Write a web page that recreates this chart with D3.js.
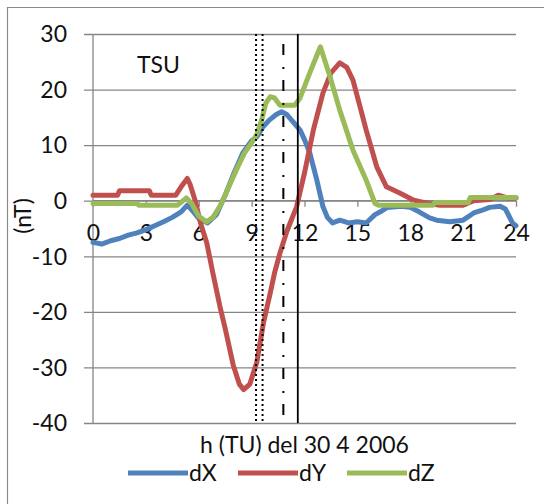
<!DOCTYPE html>
<html><head><meta charset="utf-8">
<script src="https://cdn.jsdelivr.net/npm/d3@7"></script>
<style>html,body{margin:0;padding:0;background:#fff;} svg{display:block;}</style>
</head><body>
<svg id="c" width="544" height="504"></svg>
<script>
// ---- data ----
const xTicks = [0, 3, 6, 9, 12, 15, 18, 21, 24];
const yTicks = [-40, -30, -20, -10, 0, 10, 20, 30];
const seriesNames = ["dX", "dY", "dZ"];
const seriesColors = ["#4F81BD", "#C0504D", "#9BBB59"];

const hoursX = [0,0.5,1,1.5,2,2.5,3,3.5,4,4.5,5,5.35,5.7,6.0,6.5,7.0,7.5,8.0,8.5,9.0,9.3,9.65,10.0,10.4,10.7,11.0,11.4,11.75,12.0,12.3,12.7,13.05,13.3,13.6,14.0,14.5,15.0,15.5,16.0,16.3,16.7,17.5,18.0,18.5,19.1,19.5,20.25,21,21.6,22.0,22.5,23.1,23.4,23.8,24];
const dX = [-7.5,-7.8,-7.2,-6.8,-6.2,-5.8,-5.2,-4.5,-3.8,-3,-2,-0.8,-2,-3.2,-4,-2.5,1,5,8.6,10.8,11.5,13.3,14.5,15.5,16,15.5,14,12.7,11,8.6,3.7,-1.1,-3,-4,-3.5,-4,-3.8,-4,-2.5,-2,-1.2,-1,-1.2,-2,-3.1,-3.5,-3.8,-3.5,-2.2,-1.8,-1.2,-1,-1.5,-4,-4.5];

const hoursY = [0,1.4,1.5,3.2,3.3,4.7,5.0,5.35,5.5,5.8,6.1,6.45,6.8,7.2,7.5,7.95,8.3,8.55,8.9,9.3,9.67,10.05,10.3,10.6,11.0,11.55,12.0,12.5,13.05,13.5,14.0,14.4,14.75,15.1,15.5,16.1,16.65,17.4,18.2,19.0,19.7,21.0,21.6,22.5,23.0,23.5,24];
const dY = [1,1,1.8,1.8,1,1,2.5,4,3,0,-4,-7.5,-13,-19,-23,-29.5,-33,-34,-33,-29,-22,-16.7,-13,-9.5,-5.5,-1.1,5,12.7,19.4,23,24.8,24,21.7,17.5,12.7,6.1,2.5,1.4,0.1,-0.5,-0.8,-0.8,0,0.2,1,0.5,0.5];

const hoursZ = [0,2.5,2.6,4.8,5.3,5.6,6.0,6.45,6.8,7.2,7.5,7.8,8.2,8.6,9.0,9.3,9.57,9.8,10.05,10.3,10.6,11.45,11.75,12.3,12.9,13.45,14.0,14.75,15.5,16.0,16.2,19.3,19.4,21.3,21.4,24];
const dZ = [-0.5,-0.5,-0.8,-0.8,0.5,-0.5,-2.8,-3.8,-3,-1,1,3.2,6,8.6,10.4,12,14.5,17.5,18.7,18.5,17.2,17.2,18.5,23,27.7,22.3,16.3,9.1,3.7,-0.5,-0.8,-0.8,-0.3,-0.3,0.6,0.6];

const dottedHours = [9.25, 9.62];
const dashDotHour = 10.8;
const solidHour = 11.62;

// ---- drawing ----
const svg = d3.select("#c");
const x = d3.scaleLinear().domain([0, 24]).range([93, 516]);
const y = d3.scaleLinear().domain([-40, 30]).range([423, 34]);
const font = "Lato, 'Open Sans', sans-serif";
const grid = "#868686";
const fmt = d => String(d);

// outer frame
svg.append("path").attr("d", "M7.5,504 V7.5 H544").attr("fill", "none").attr("stroke", "#8a8a8a").attr("stroke-width", 1.2);

// horizontal gridlines + y-axis ticks
const yAxis = d3.axisLeft(y).tickValues(yTicks).tickSize(-(516 - 84)).tickPadding(26).tickFormat(fmt);
const gy = svg.append("g").attr("transform", "translate(84,0)").call(yAxis);
gy.select(".domain").remove();
gy.selectAll(".tick line").attr("stroke", grid).attr("stroke-width", 1.3);
gy.selectAll(".tick text").attr("font-family", font).attr("font-size", 23).attr("fill", "#111").attr("x", 67 - 84).attr("dy", "0.34em");

// y axis vertical line
svg.append("line").attr("x1", 93).attr("x2", 93).attr("y1", y(30)).attr("y2", y(-40)).attr("stroke", grid).attr("stroke-width", 1.3);

// x axis at zero
const xAxis = d3.axisBottom(x).tickValues(xTicks).tickSize(6).tickPadding(18).tickFormat(fmt);
const gx = svg.append("g").attr("transform", `translate(0,${y(0)})`).call(xAxis);
gx.select(".domain").attr("stroke", grid).attr("stroke-width", 1.3).attr("d", `M${x(0)},0H${x(24)}`);
gx.selectAll(".tick line").attr("stroke", grid).attr("stroke-width", 1.3);
gx.selectAll(".tick text").attr("font-family", font).attr("font-size", 23).attr("fill", "#111");

// series
const line = d3.line().x(d => x(d[0])).y(d => y(d[1]));
const data = [d3.zip(hoursX, dX), d3.zip(hoursY, dY), d3.zip(hoursZ, dZ)];
data.forEach((pts, i) => {
  svg.append("path").datum(pts).attr("d", line).attr("fill", "none")
    .attr("stroke", seriesColors[i]).attr("stroke-width", 5)
    .attr("stroke-linejoin", "round").attr("stroke-linecap", "round");
});

// vertical markers
dottedHours.forEach(h => {
  svg.append("line").attr("x1", x(h)).attr("x2", x(h)).attr("y1", y(30)).attr("y2", y(-40))
    .attr("stroke", "#000").attr("stroke-width", 2).attr("stroke-dasharray", "2,3");
});
svg.append("line").attr("x1", x(dashDotHour)).attr("x2", x(dashDotHour)).attr("y1", y(30) + 10).attr("y2", y(-40))
  .attr("stroke", "#000").attr("stroke-width", 2).attr("stroke-dasharray", "11,12,2,11");
svg.append("line").attr("x1", x(solidHour)).attr("x2", x(solidHour)).attr("y1", y(30)).attr("y2", y(-40))
  .attr("stroke", "#000").attr("stroke-width", 1.8);

// labels
svg.append("text").attr("x", 137).attr("y", 73).attr("font-family", font).attr("font-size", 23).attr("fill", "#111").text("TSU");
svg.append("text").attr("x", (x(0) + x(24)) / 2).attr("y", 453).attr("text-anchor", "middle")
  .attr("font-family", font).attr("font-size", 23).attr("fill", "#111").text("h (TU) del 30 4 2006");
svg.append("text").attr("transform", "translate(31,216) rotate(-90)").attr("text-anchor", "middle")
  .attr("font-family", font).attr("font-size", 23).attr("fill", "#111").text("(nT)");

// legend
const legX = [128, 238, 347];
seriesNames.forEach((n, i) => {
  svg.append("line").attr("x1", legX[i]).attr("x2", legX[i] + 60).attr("y1", 473).attr("y2", 473)
    .attr("stroke", seriesColors[i]).attr("stroke-width", 5);
  svg.append("text").attr("x", legX[i] + 61).attr("y", 481).attr("font-family", font).attr("font-size", 23)
    .attr("fill", "#111").text(n);
});
</script>
</body></html>
